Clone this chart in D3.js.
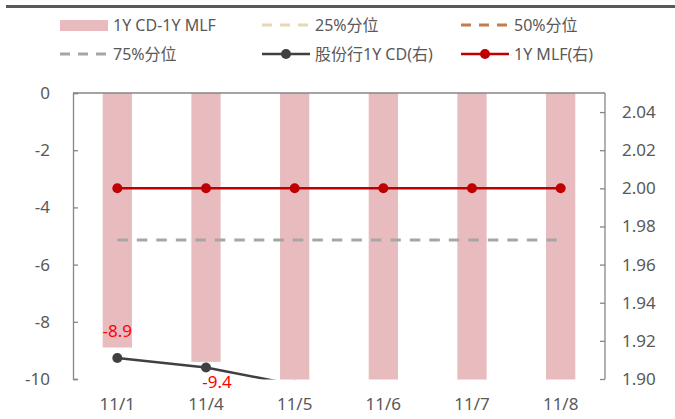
<!DOCTYPE html>
<html><head><meta charset="utf-8">
<script src="https://cdn.jsdelivr.net/npm/d3@7"></script>
<style>body{margin:0;background:#fff}svg{display:block}text{font-family:"Noto Sans","Noto Sans CJK SC",sans-serif}</style>
</head><body><svg id="c" width="675" height="419"></svg>
<script>
const categories = ['11/1','11/4','11/5','11/6','11/7','11/8'];
const spread = [-8.9, -9.4, -10.3, -10.5, -10.6, -10.6];      // 1Y CD-1Y MLF (bp)
const p25 = [-14, -14, -14, -14, -14, -14];
const p50 = [-11.6, -11.6, -11.6, -11.6, -11.6, -11.6];
const p75 = [-5.14, -5.14, -5.14, -5.14, -5.14, -5.14];
const cdRate = [1.911, 1.906, 1.897, 1.895, 1.894, 1.894];   // 股份行1Y CD (右)
const mlfRate = [2.00, 2.00, 2.00, 2.00, 2.00, 2.00];         // 1Y MLF (右)
const leftTicks = [0, -2, -4, -6, -8, -10];
const rightTicks = [1.90, 1.92, 1.94, 1.96, 1.98, 2.00, 2.02, 2.04];
const shownLabels = ['-8.9', '-9.4'];

const svg = d3.select('#c');
const L = 73, R = 605, T = 93, B = 379;
const txt = '#595959', axisC = '#868686';
const fmt1 = v => d3.format('.1f')(v).replace('\u2212', '-');

const x = d3.scaleBand().domain(categories).range([L, R]).paddingInner(0.67).paddingOuter(0.335);
const cx = c => x(c) + x.bandwidth() / 2;
const yL = d3.scaleLinear().domain([-10, 0]).range([B, T]);
const yR = d3.scaleLinear().domain([1.90, 2.05]).range([B, T]);

// top decorative bar
svg.append('rect').attr('x', 6).attr('y', 5).attr('width', 669).attr('height', 3).attr('fill', '#595959');

svg.append('defs').append('clipPath').attr('id', 'pc')
  .append('rect').attr('x', L).attr('y', T - 10).attr('width', R - L).attr('height', B - T + 10.5);
const g = svg.append('g').attr('clip-path', 'url(#pc)');

// bars
g.selectAll('rect.bar').data(spread).join('rect').attr('class', 'bar')
  .attr('x', (d, i) => x(categories[i])).attr('width', x.bandwidth())
  .attr('y', yL(0)).attr('height', d => yL(d) - yL(0)).attr('fill', '#e8bcbf');

// percentile lines
const pl = d3.line().x((d, i) => cx(categories[i])).y(d => yL(d));
[[p25, '#e6d7b5'], [p50, '#c47b4f'], [p75, '#a6a6a6']].forEach(([arr, col]) => {
  g.append('path').attr('d', pl(arr)).attr('fill', 'none').attr('stroke', col)
    .attr('stroke-width', 3).attr('stroke-dasharray', '10.5,9');
});

// rate lines
const rl = d3.line().x((d, i) => cx(categories[i])).y(d => yR(d));
[[cdRate, '#404040'], [mlfRate, '#c00000']].forEach(([arr, col]) => {
  g.append('path').attr('d', rl(arr)).attr('fill', 'none').attr('stroke', col).attr('stroke-width', 2.5);
  g.selectAll(null).data(arr).join('circle')
    .attr('cx', (d, i) => cx(categories[i])).attr('cy', d => yR(d)).attr('r', 5).attr('fill', col);
});

// category axis line at 0
svg.append('line').attr('x1', L).attr('x2', R).attr('y1', yL(0)).attr('y2', yL(0)).attr('stroke', axisC).attr('stroke-width', 1.3);

// left axis
const la = svg.append('g').attr('transform', `translate(${L},0)`)
  .call(d3.axisLeft(yL).tickValues(leftTicks).tickSize(-5).tickPadding(23).tickFormat(d => String(d)));
la.select('.domain').attr('stroke', axisC).attr('stroke-width', 1.3);
la.selectAll('.tick line').attr('stroke', axisC).attr('stroke-width', 1.3);
la.selectAll('text').attr('fill', txt).attr('font-size', 17);

// right axis
const ra = svg.append('g').attr('transform', `translate(${R},0)`)
  .call(d3.axisRight(yR).tickValues(rightTicks).tickSize(-5).tickPadding(17).tickFormat(d3.format('.2f')));
ra.select('.domain').attr('stroke', axisC).attr('stroke-width', 1.3).attr('d', `M0,${B}V${T}`);
ra.selectAll('.tick line').attr('stroke', axisC).attr('stroke-width', 1.3);
ra.selectAll('text').attr('fill', txt).attr('font-size', 17);

// x labels at bottom
svg.selectAll('text.xl').data(categories).join('text').attr('class', 'xl')
  .attr('x', d => cx(d)).attr('y', 410).attr('text-anchor', 'middle')
  .attr('fill', txt).attr('font-size', 17).text(d => d);

// data labels
const lblPos = [{dx: 0, dy: -17}, {dx: 11, dy: 20}];
spread.forEach((v, i) => {
  const s = fmt1(v);
  if (!shownLabels.includes(s)) return;
  const p = lblPos[shownLabels.indexOf(s)];
  svg.append('text').attr('x', cx(categories[i]) + p.dx).attr('y', yL(v) + p.dy)
    .attr('text-anchor', 'middle').attr('dominant-baseline', 'central')
    .attr('fill', '#ff0000').attr('font-size', 17).text(s);
});

// legend
const legend = [
  {name: '1Y CD-1Y MLF', type: 'bar', color: '#e8bcbf'},
  {name: '25%分位', type: 'dash', color: '#e6d7b5'},
  {name: '50%分位', type: 'dash', color: '#c47b4f'},
  {name: '75%分位', type: 'dash', color: '#a6a6a6'},
  {name: '股份行1Y CD(右)', type: 'line', color: '#404040'},
  {name: '1Y MLF(右)', type: 'line', color: '#c00000'}
];
const colX = [60, 262, 461], rowY = [25, 54];
legend.forEach((d, i) => {
  const lx = colX[i % 3], ly = rowY[Math.floor(i / 3)];
  const lg = svg.append('g');
  if (d.type === 'bar') lg.append('rect').attr('x', lx).attr('y', ly - 5).attr('width', 48).attr('height', 11).attr('fill', d.color);
  else {
    lg.append('line').attr('x1', lx).attr('x2', lx + 48).attr('y1', ly).attr('y2', ly).attr('stroke', d.color)
      .attr('stroke-width', d.type === 'dash' ? 3 : 2.5).attr('stroke-dasharray', d.type === 'dash' ? '10,8' : null);
    if (d.type === 'line') lg.append('circle').attr('cx', lx + 24).attr('cy', ly).attr('r', 5).attr('fill', d.color);
  }
  lg.append('text').attr('x', lx + 53).attr('y', ly).attr('dominant-baseline', 'central')
    .attr('fill', txt).attr('font-size', 16).text(d.name);
});
</script></body></html>
